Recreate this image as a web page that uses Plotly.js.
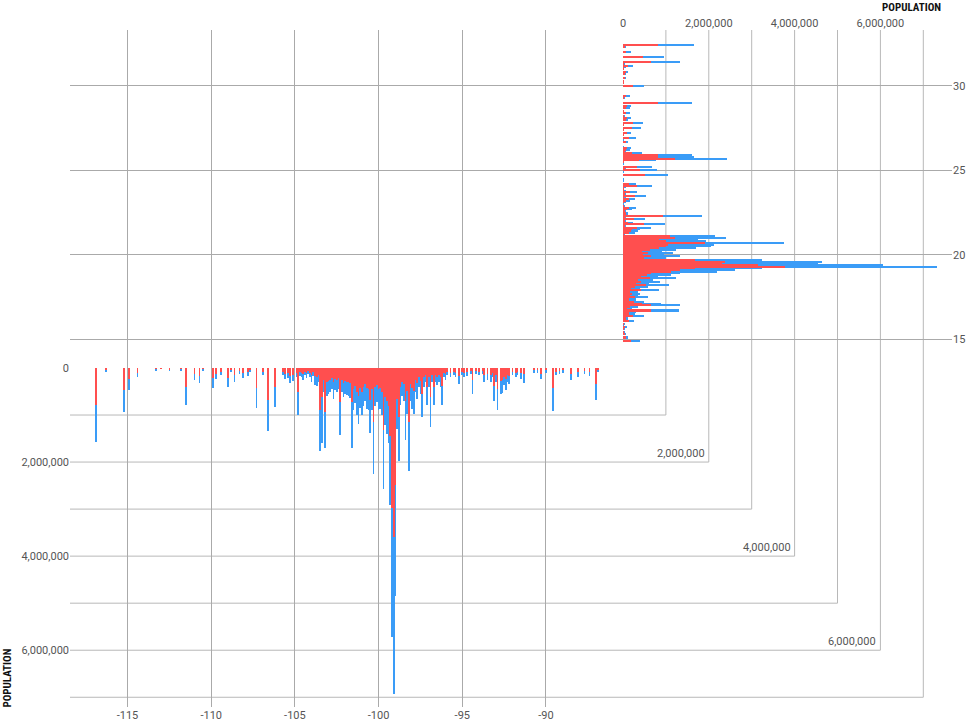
<!DOCTYPE html>
<html><head><meta charset="utf-8">
<script src="https://cdn.plot.ly/plotly-3.0.1.min.js"></script>
<style>html,body{margin:0;padding:0;background:#fff}#chart{width:968px;height:722px}</style>
</head><body><div id="chart"></div>
<script>
// ---- Bottom chart: population by longitude (two stacked series) ----
const lonBins = [
 -116.9,-116.3,-115.2,-114.9,-114.4,-113.3,-113.0,-112.5,-111.8,-111.5,
 -111.0,-110.7,-110.5,-109.9,-109.7,-109.4,-109.0,-108.8,-108.6,-108.3,
 -108.1,-107.8,-107.7,-107.3,-106.9,-106.6,-106.2,-105.7,-105.6,-105.4,
 -105.3,-105.1,-104.9,-104.8,-104.7,-104.6,-104.5,-104.4,-104.3,-104.2,
 -104.1,-104.0,-103.9,-103.8,-103.7,-103.6,-103.5,-103.4,-103.3,-103.2,
 -103.1,-103.0,-102.9,-102.8,-102.7,-102.6,-102.5,-102.4,-102.3,-102.2,
 -102.1,-102.0,-101.9,-101.8,-101.7,-101.6,-101.5,-101.4,-101.3,-101.2,
 -101.1,-101.0,-100.9,-100.8,-100.7,-100.6,-100.5,-100.4,-100.3,-100.2,
 -100.1,-100.0,-99.9,-99.8,-99.7,-99.6,-99.5,-99.4,-99.3,-99.2,
 -99.1,-99.0,-98.9,-98.8,-98.7,-98.6,-98.5,-98.4,-98.3,-98.2,
 -98.1,-98.0,-97.9,-97.8,-97.7,-97.6,-97.5,-97.4,-97.3,-97.2,
 -97.1,-97.0,-96.9,-96.8,-96.7,-96.6,-96.5,-96.4,-96.3,-96.2,
 -96.1,-96.0,-95.9,-95.7,-95.5,-95.4,-95.2,-95.0,-94.9,-94.7,
 -94.5,-94.4,-94.2,-94.0,-93.8,-93.7,-93.5,-93.3,-93.2,-93.1,
 -93.0,-92.9,-92.7,-92.6,-92.5,-92.4,-92.3,-92.2,-92.0,-91.8,
 -91.7,-91.5,-91.3,-90.7,-90.5,-90.3,-90.0,-89.6,-89.4,-89.2,
 -89.0,-88.5,-88.1,-87.7,-87.4,-87.0,-86.9
];
const lonRed = [
 787000,45000,470000,240000,100000,30000,15000,35000,30000,410000,
 130000,165000,30000,215000,120000,75000,205000,40000,145000,65000,
 110000,85000,40000,430000,75000,680000,410000,75000,120000,110000,
 165000,140000,100000,500000,80000,100000,130000,75000,110000,60000,
 100000,145000,90000,180000,190000,150000,900000,610000,250000,930000,
 300000,280000,260000,220000,300000,230000,260000,220000,720000,260000,
 310000,280000,290000,300000,320000,720000,450000,375000,500000,600000,
 425000,500000,400000,350000,435000,450000,690000,450000,1150000,400000,
 360000,450000,435000,500000,1320000,610000,700000,800000,1450000,2980000,
 3590000,2490000,650000,1040000,395000,300000,350000,700000,485000,1150000,
 350000,435000,485000,250000,325000,200000,275000,550000,200000,150000,
 395000,200000,620000,150000,395000,150000,185000,150000,200000,390000,
 100000,125000,75000,100000,75000,100000,165000,75000,100000,90000,
 60000,250000,60000,75000,60000,150000,125000,150000,100000,380000,
 150000,450000,275000,265000,185000,235000,150000,165000,75000,100000,
 75000,115000,130000,50000,50000,120000,50000,430000,75000,60000,
 50000,130000,95000,60000,90000,350000,40000
];
const lonBlue = [
 781000,45000,473000,230000,85000,30000,15000,35000,25000,377000,
 125000,161000,30000,215000,120000,75000,205000,40000,145000,65000,
 110000,85000,40000,427000,75000,670000,410000,75000,115000,110000,
 160000,140000,90000,490000,80000,100000,125000,75000,110000,60000,
 100000,145000,90000,180000,190000,150000,870000,990000,250000,770000,
 300000,280000,260000,220000,350000,230000,260000,220000,710000,260000,
 310000,280000,290000,300000,320000,990000,450000,375000,500000,600000,
 425000,500000,400000,350000,435000,450000,690000,450000,1100000,400000,
 360000,450000,435000,500000,1260000,610000,700000,800000,1460000,2740000,
 3350000,2350000,650000,930000,395000,300000,350000,840000,485000,1050000,
 350000,435000,485000,250000,325000,200000,275000,490000,200000,150000,
 395000,200000,640000,150000,395000,150000,185000,150000,200000,390000,
 100000,125000,75000,100000,75000,100000,165000,75000,100000,90000,
 60000,310000,60000,75000,60000,150000,125000,150000,100000,320000,
 150000,450000,275000,265000,185000,235000,150000,165000,75000,100000,
 75000,115000,180000,50000,50000,120000,50000,490000,75000,60000,
 50000,130000,95000,60000,90000,340000,40000
];

// ---- Top-right chart: population by latitude (two stacked series) ----
const latBins = [
 32.4,32.3,32.0,31.7,31.4,31.3,31.2,31.1,31.0,30.8,
 30.7,30.5,30.3,30.2,30.0,29.8,29.7,29.6,29.4,29.3,
 29.0,28.8,28.7,28.5,28.4,28.2,28.1,28.0,27.8,27.7,
 27.5,27.4,27.2,27.1,26.9,26.8,26.7,26.4,26.3,26.2,
 26.1,26.0,25.9,25.8,25.7,25.6,25.5,25.4,25.2,25.1,
 25.0,24.9,24.7,24.5,24.4,24.2,24.1,24.0,23.9,23.8,
 23.7,23.6,23.5,23.4,23.3,23.2,23.1,23.0,22.9,22.8,
 22.7,22.6,22.5,22.4,22.3,22.2,22.1,22.0,21.9,21.8,
 21.7,21.6,21.5,21.4,21.3,21.2,21.1,21.0,20.9,20.8,
 20.7,20.6,20.5,20.4,20.3,20.2,20.1,20.0,19.9,19.8,
 19.7,19.6,19.5,19.4,19.3,19.2,19.1,19.0,18.9,18.8,
 18.7,18.6,18.5,18.4,18.3,18.2,18.1,18.0,17.9,17.8,
 17.7,17.6,17.5,17.4,17.3,17.2,17.1,17.0,16.9,16.8,
 16.7,16.6,16.5,16.4,16.3,16.2,16.1,15.9,15.8,15.7,
 15.6,15.4,15.3,15.1,14.9,14.7
];
const latRed = [
 820000,40000,80000,470000,660000,20000,120000,30000,15000,60000,
 40000,40000,15000,15000,230000,5000,5000,5000,80000,20000,
 820000,90000,75000,15000,75000,27000,90000,60000,230000,15000,
 210000,15000,90000,15000,150000,10000,60000,10000,100000,80000,
 40000,200000,820000,820000,1210000,380000,15000,10000,330000,40000,
 390000,10000,520000,10000,10000,150000,330000,30000,15000,30000,
 160000,40000,270000,30000,130000,80000,30000,10000,20000,150000,
 100000,40000,60000,60000,930000,40000,250000,40000,120000,500000,
 40000,320000,200000,180000,140000,20000,1090000,1210000,850000,1000000,
 1910000,1060000,1000000,840000,620000,450000,580000,470000,660000,500000,
 1670000,2370000,2300000,3150000,3780000,1670000,1330000,1120000,660000,560000,
 410000,620000,340000,430000,300000,530000,290000,190000,420000,170000,
 200000,170000,290000,150000,150000,250000,440000,660000,170000,100000,
 660000,150000,130000,240000,60000,60000,130000,20000,10000,50000,
 20000,20000,40000,60000,190000,5000
];
const latBlue = [
 840000,40000,100000,480000,680000,20000,120000,30000,15000,60000,
 40000,40000,15000,15000,250000,5000,5000,5000,80000,20000,
 800000,90000,80000,15000,80000,27000,90000,60000,240000,15000,
 200000,15000,100000,15000,160000,10000,60000,10000,90000,75000,
 40000,240000,790000,840000,1210000,400000,15000,10000,350000,30000,
 400000,10000,530000,10000,10000,160000,350000,30000,15000,30000,
 170000,40000,270000,30000,140000,80000,30000,10000,20000,160000,
 100000,40000,60000,60000,900000,40000,260000,40000,120000,490000,
 40000,330000,190000,170000,130000,20000,1050000,1190000,900000,930000,
 1840000,1050000,1060000,850000,620000,450000,590000,480000,660000,500000,
 1580000,2260000,2250000,2900000,3540000,1560000,1280000,1080000,660000,550000,
 400000,620000,360000,430000,300000,540000,290000,200000,410000,180000,
 200000,180000,290000,160000,150000,250000,450000,660000,180000,100000,
 640000,160000,140000,250000,60000,60000,130000,20000,10000,50000,
 20000,20000,40000,60000,200000,5000
];

// ---- Ticks / labels ----
const lonTickVals = [-115,-110,-105,-100,-95,-90];
const lonTickText = ['-115','-110','-105','-100','-95','-90'];
const popTickVals = [0,2000000,4000000,6000000];
const latTickVals = [15,20,25,30];
const popGridVals = [1000000,2000000,3000000,4000000,5000000,6000000,7000000];
const cornerLabelVals = [2000000,4000000,6000000];
const axisTitle = 'POPULATION';

// ---- Styling / geometry ----
const RED = '#ff4f4f', BLUE = '#3a9cf7';
const GRID = '#aaaaaa', LGRID = '#b8b8b8';
const X_RANGE = [-118.435,-65.746];
const Y_RANGE = [7207000,-7185000];
const X2_RANGE = [-12890000,7669000];
const Y2_RANGE = [-6.79,33.316];
const FONT = 'Roboto, "Noto Sans", sans-serif';
const tickFont = {family: FONT, size: 11, color: '#555'};
const titleFont = {family:'"Liberation Sans Narrow", "Roboto Condensed", Roboto, sans-serif', size:11, color:'#111'};

const barCommon = {type:'bar', hoverinfo:'skip', showlegend:false};
const traces = [
  Object.assign({}, barCommon, {x: lonBins, y: lonBlue, base: lonRed, width:0.1, xaxis:'x', yaxis:'y', marker:{color:BLUE, line:{width:0}}}),
  Object.assign({}, barCommon, {x: lonBins, y: lonRed, width:0.1, xaxis:'x', yaxis:'y', marker:{color:RED, line:{width:0}}}),
  Object.assign({}, barCommon, {orientation:'h', y: latBins, x: latBlue, base: latRed, width:0.12, xaxis:'x2', yaxis:'y2', marker:{color:BLUE, line:{width:0}}}),
  Object.assign({}, barCommon, {orientation:'h', y: latBins, x: latRed, width:0.12, xaxis:'x2', yaxis:'y2', marker:{color:RED, line:{width:0}}})
];

const shapes = [];
popGridVals.forEach(v => {
  shapes.push({type:'line', xref:'x2', yref:'y', x0:v, x1:v, y0:Y_RANGE[1], y1:v, line:{color:LGRID, width:1}, layer:'below'});
  shapes.push({type:'line', xref:'x2', yref:'y', x0:X2_RANGE[0], x1:v, y0:v, y1:v, line:{color:LGRID, width:1}, layer:'below'});
});

const annotations = cornerLabelVals.map(v => ({
  xref:'x2', yref:'y', x:v, y:v, text: v.toLocaleString('en-US'),
  xanchor:'right', yanchor:'bottom', xshift:-2, yshift:0, showarrow:false, font: tickFont
}));
annotations.push({xref:'paper', yref:'paper', x:0.9898, y:1.033, xanchor:'right', yanchor:'middle', showarrow:false,
  text:'<b>'+axisTitle+'</b>', font: titleFont});
annotations.push({xref:'paper', yref:'paper', x:-0.0706, y:0.043, xanchor:'center', yanchor:'middle', textangle:-90, showarrow:false,
  text:'<b>'+axisTitle+'</b>', font: titleFont});

const layout = {
  width:968, height:722,
  margin:{l:70, r:16, t:30, b:15, pad:0},
  barmode:'overlay', bargap:0,
  paper_bgcolor:'#fff', plot_bgcolor:'rgba(0,0,0,0)',
  font:{family:FONT, size:11, color:'#555'},
  xaxis:{range:X_RANGE, tickvals:lonTickVals, ticktext:lonTickText, showgrid:true, gridcolor:GRID, gridwidth:1,
         zeroline:false, showline:false, ticks:'', tickfont:tickFont, fixedrange:true},
  yaxis:{range:Y_RANGE, tickvals:popTickVals, tickformat:',d', showgrid:false, zeroline:false, showline:false,
         ticks:'', tickfont:tickFont, fixedrange:true},
  xaxis2:{overlaying:'x', side:'top', anchor:'y2', range:X2_RANGE, tickvals:popTickVals, tickformat:',d',
          showgrid:false, zeroline:false, showline:false, ticks:'', tickfont:tickFont, fixedrange:true},
  yaxis2:{overlaying:'y', side:'right', anchor:'x2', range:Y2_RANGE, tickvals:latTickVals, showgrid:true,
          gridcolor:GRID, gridwidth:1, zeroline:false, showline:false, ticks:'', tickfont:tickFont, fixedrange:true},
  shapes: shapes,
  annotations: annotations
};

Plotly.newPlot('chart', traces, layout, {staticPlot:true, displayModeBar:false});
</script>
</body></html>
